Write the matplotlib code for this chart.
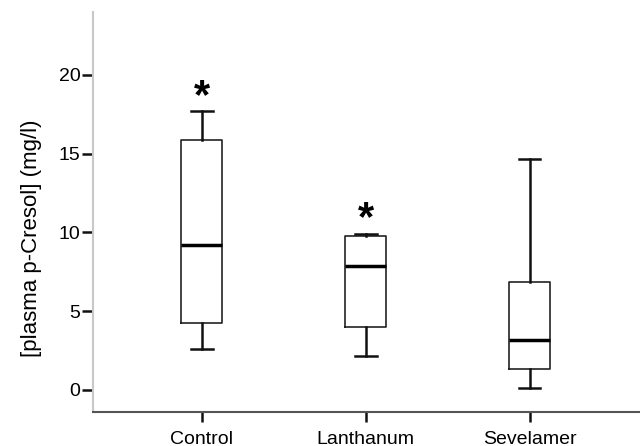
import matplotlib
matplotlib.use("Agg")
import matplotlib.pyplot as plt

plt.rcParams['font.family'] = ['Liberation Sans', 'DejaVu Sans']

groups = ["Control", "Lanthanum", "Sevelamer"]
whisker_low = [2.62, 2.18, 0.11]
q1 = [4.23, 4.02, 1.31]
median = [9.18, 7.87, 3.17]
q3 = [15.85, 9.80, 6.84]
whisker_high = [17.71, 9.92, 14.64]
significant = [True, True, False]

stats = []
for i, name in enumerate(groups):
    stats.append(dict(label=name, whislo=whisker_low[i], q1=q1[i],
                      med=median[i], q3=q3[i], whishi=whisker_high[i],
                      fliers=[]))

fig = plt.figure(figsize=(6.4, 4.46), dpi=100)
ax = fig.add_axes([0.1453, 0.0762, 0.854, 0.897])

positions = [0, 1, 2]
ax.bxp(stats, positions=positions, widths=0.25, showfliers=False,
       boxprops=dict(color='#222222', linewidth=1.2),
       medianprops=dict(color='black', linewidth=2.5),
       whiskerprops=dict(color='#111111', linewidth=1.8),
       capprops=dict(color='#111111', linewidth=1.8),
       capwidths=0.13)

# significance stars just above the upper whisker
for i, sig in enumerate(significant):
    if sig:
        ax.text(positions[i], whisker_high[i] + 0.2, "*", ha='center',
                va='baseline', fontsize=30, fontweight='bold')

ax.set_xlim(-0.665, 2.67)
ax.set_ylim(-1.4, 24.0)
ax.set_yticks([0, 5, 10, 15, 20])
ax.set_xticks(positions)
ax.set_xticklabels(groups)
ax.tick_params(axis='y', labelsize=14, length=8, width=1.8, color='#111111', pad=1)
ax.tick_params(axis='x', labelsize=14, length=7, width=1.8, color='#111111', pad=7)
ax.set_ylabel("[plasma p-Cresol] (mg/l)", fontsize=16, labelpad=12)
ax.yaxis.label.set_y(0.435)

ax.spines['top'].set_visible(False)
ax.spines['right'].set_visible(False)
ax.spines['left'].set_color('#c8c8c8')
ax.spines['left'].set_linewidth(1.5)
ax.spines['bottom'].set_color('#555555')
ax.spines['bottom'].set_linewidth(1.5)

plt.savefig("out.png", dpi=100)
